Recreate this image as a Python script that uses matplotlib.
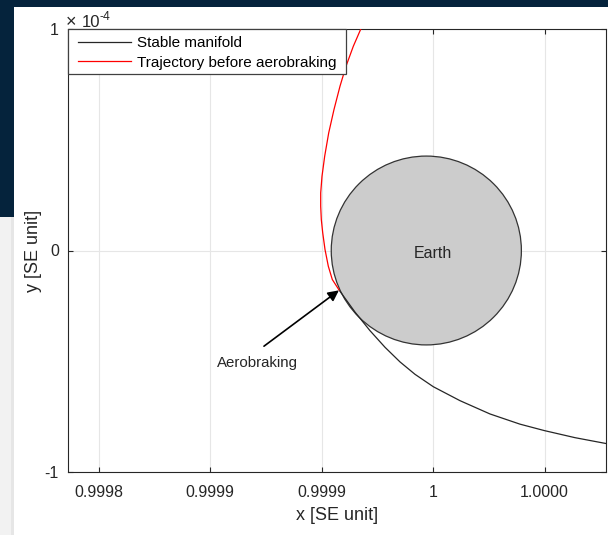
import matplotlib
matplotlib.use("Agg")
import matplotlib.pyplot as plt
from matplotlib.patches import Circle, Rectangle

plt.rcParams['font.family'] = ['Liberation Sans', 'DejaVu Sans']

# ---- data (SE units) ----
traj_x = [0.99996771, 0.99996426, 0.99996099, 0.99995830, 0.99995561, 0.99995323,
          0.99995143, 0.99995022, 0.99994964, 0.99994964, 0.99994991, 0.99995054,
          0.99995157, 0.99995305, 0.99995484, 0.99995785]
traj_y = [1.002e-4, 0.922e-4, 0.832e-4, 0.742e-4, 0.637e-4, 0.531e-4,
          0.426e-4, 0.335e-4, 0.260e-4, 0.200e-4, 0.140e-4, 0.080e-4,
          0.0045e-4, -0.071e-4, -0.131e-4, -0.178e-4]

manifold_x = [0.99995785, 0.99996502, 0.99997175, 0.99997848, 0.99998520, 0.99999193,
              1.00000013, 1.00001211, 1.00002556, 1.00003901, 1.00004991, 1.00006368,
              1.00007789]
manifold_y = [-0.178e-4, -0.278e-4, -0.362e-4, -0.437e-4, -0.503e-4, -0.559e-4,
              -0.615e-4, -0.678e-4, -0.738e-4, -0.784e-4, -0.813e-4, -0.845e-4,
              -0.872e-4]

earth_x = 1 - 3.003e-6
earth_y = 0.0
earth_r = 4.263e-5

xticks = [0.99985, 0.99990, 0.99995, 1.00000, 1.00005]
xticklabels = ['0.9998', '0.9999', '0.9999', '1', '1.0000']
yticks = [-1e-4, 0.0, 1e-4]
yticklabels = ['-1', '0', '1']

arrow_tip = (0.99995780, -0.180e-4)
arrow_tail = (0.99992420, -0.432e-4)
label_pos = (0.99992110, -0.510e-4)

W, H = 608, 535
fig = plt.figure(figsize=(W / 100, H / 100), dpi=100)
fig.patch.set_facecolor('white')

# screenshot background pieces
navy = '#05233c'
fig.patches.append(Rectangle((0, 1 - 7 / H), 1, 7 / H, transform=fig.transFigure,
                             facecolor=navy, edgecolor='none', zorder=-5))
fig.patches.append(Rectangle((0, 1 - 217 / H), 14 / W, 217 / H, transform=fig.transFigure,
                             facecolor=navy, edgecolor='none', zorder=-5))
fig.patches.append(Rectangle((0, 0), 11 / W, 1 - 217 / H, transform=fig.transFigure,
                             facecolor='#f2f2f2', edgecolor='none', zorder=-5))
fig.patches.append(Rectangle((11 / W, 0), 3 / W, 1 - 217 / H, transform=fig.transFigure,
                             facecolor='#e6e6e6', edgecolor='none', zorder=-5))

ax = fig.add_axes([68 / W, 1 - 472 / H, (605.7 - 68) / W, 443 / H])
ax.set_xlim(0.99983632, 1.00007744)
ax.set_ylim(-1e-4, 1e-4)

ax.grid(True, color='#e6e6e6', linewidth=0.8, zorder=0)
ax.set_axisbelow(True)

earth = Circle((earth_x, earth_y), earth_r, facecolor='#cccccc', edgecolor='#333333',
               linewidth=0.9, zorder=1)
ax.add_patch(earth)

ax.plot(manifold_x, manifold_y, color='#262626', linewidth=0.9, zorder=2,
        label='Stable manifold')
ax.plot(traj_x, traj_y, color='#ff0000', linewidth=0.9, zorder=3,
        label='Trajectory before aerobraking')

ax.text(1.0, -0.012e-4, 'Earth', ha='center', va='center', fontsize=11.5,
        color='#262626', zorder=4)

ax.annotate('', xy=arrow_tip, xytext=arrow_tail,
            arrowprops=dict(arrowstyle='-|>', color='black', lw=1.2,
                            mutation_scale=16, shrinkA=0, shrinkB=0), zorder=5)
ax.text(label_pos[0], label_pos[1], 'Aerobraking', ha='center', va='center',
        fontsize=10.8, color='#262626')

ax.set_xticks(xticks)
ax.set_xticklabels(xticklabels)
ax.set_yticks(yticks)
ax.set_yticklabels(yticklabels)
ax.tick_params(direction='in', length=3.5, width=0.8, top=True, right=True,
               labelsize=11.5, colors='#262626')
ax.tick_params(axis='x', pad=9.5)
ax.tick_params(axis='y', pad=6.5)
for s in ax.spines.values():
    s.set_color('#262626')
    s.set_linewidth(0.8)

ax.set_xlabel('x [SE unit]', fontsize=13, color='#262626', labelpad=5)
ax.set_ylabel('y [SE unit]', fontsize=13, color='#262626', labelpad=2)

# exponent label
fig.text(66 / W, 1 - 27 / H, '\u00d7', ha='left', va='baseline',
         fontsize=13, color='#262626')
fig.text(81.5 / W, 1 - 27 / H, '10', ha='left', va='baseline',
         fontsize=12, color='#262626')
fig.text(100 / W, 1 - 20 / H, '-4', ha='left', va='baseline',
         fontsize=8.8, color='#262626')

# legend frame drawn manually (pixel-accurate box)
frame = Rectangle((68 / W, 1 - 74 / H), (346 - 68) / W, (74 - 29) / H,
                  transform=fig.transFigure, facecolor='white', edgecolor='#404040',
                  linewidth=0.9, zorder=6)
ax.add_artist(frame)
frame.set_clip_on(False)

leg = ax.legend(loc='upper left', bbox_to_anchor=(78 / W, 1 - 36 / H),
                bbox_transform=fig.transFigure, borderaxespad=0, borderpad=0,
                fontsize=11, frameon=False, handlelength=3.47,
                handletextpad=0.39, labelspacing=0.38)
leg.set_zorder(7)

fig.savefig('out.png', dpi=100)
